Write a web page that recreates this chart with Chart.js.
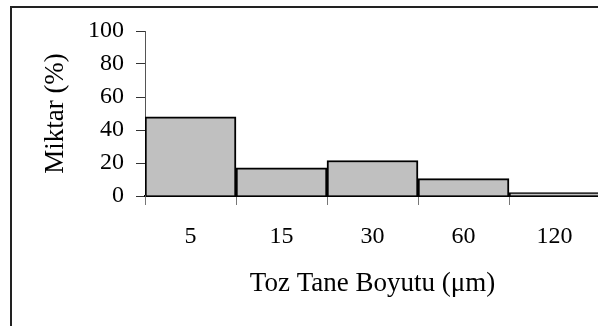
<!DOCTYPE html>
<html>
<head>
<meta charset="utf-8">
<script src="https://cdn.jsdelivr.net/npm/chart.js@4/dist/chart.umd.min.js"></script>
<style>
  html, body { margin: 0; padding: 0; width: 598px; height: 326px; overflow: hidden; background: #fff; }
  #frame { position: absolute; left: 10px; top: 6px; width: 700px; height: 400px; border-left: 2px solid #222; border-top: 2px solid #222; }
  #wrap { position: absolute; left: 0; top: 0; width: 620px; height: 326px; }
</style>
</head>
<body>
<div id="frame"></div>
<div id="wrap"><canvas id="chart" width="620" height="326"></canvas></div>
<script>
// --- Data ---
const sizeLabels = ['5', '15', '30', '60', '120'];
const amounts = [48, 17, 21.5, 10.5, 2];
const yTicks = [0, 20, 40, 60, 80, 100];

const xTitle = 'Toz Tane Boyutu (\u03bcm)';
const yTitle = 'Miktar (%)';

const serif = "'Liberation Serif', 'Times New Roman', serif";

// axis titles: x one centred under the plot, y one rotated on the left
const axisTitles = {
  id: 'axisTitles',
  afterDraw(chart) {
    const ctx = chart.ctx;
    const area = chart.chartArea;
    ctx.save();
    ctx.fillStyle = '#000';
    ctx.font = '27px ' + serif;
    ctx.textAlign = 'center';
    ctx.textBaseline = 'middle';
    ctx.fillText(xTitle, (area.left + area.right) / 2, 284);
    ctx.translate(56, (area.top + area.bottom) / 2);
    ctx.rotate(-Math.PI / 2);
    ctx.fillText(yTitle, 0, 0);
    ctx.restore();
  }
};

new Chart(document.getElementById('chart').getContext('2d'), {
  type: 'bar',
  data: {
    labels: sizeLabels,
    datasets: [{
      data: amounts,
      backgroundColor: '#c0c0c0',
      borderColor: '#000',
      borderWidth: { top: 2, left: 2, right: 2, bottom: 0 },
      borderSkipped: 'bottom',
      barPercentage: 1,
      categoryPercentage: 1
    }]
  },
  options: {
    responsive: false,
    animation: false,
    layout: { padding: { left: 0, top: 31, right: 20, bottom: 0 } },
    plugins: { legend: { display: false }, tooltip: { enabled: false } },
    scales: {
      x: {
        offset: true,
        grid: { offset: true, drawOnChartArea: false, drawTicks: true, tickLength: 9, color: '#777', lineWidth: 1 },
        border: { color: '#000', width: 2 },
        ticks: { color: '#000', font: { family: serif, size: 24 }, padding: 17, maxRotation: 0 },
        afterFit(scale) { scale.height = 130; }
      },
      y: {
        min: 0,
        max: 100,
        afterBuildTicks(scale) { scale.ticks = yTicks.map(v => ({ value: v })); },
        grid: { drawOnChartArea: false, drawTicks: true, tickLength: 9, color: '#333', lineWidth: 1 },
        border: { color: '#555', width: 1 },
        ticks: { color: '#000', font: { family: serif, size: 24 }, padding: 12 },
        afterFit(scale) { scale.width = 145; }
      }
    }
  },
  plugins: [axisTitles]
});
</script>
</body>
</html>
